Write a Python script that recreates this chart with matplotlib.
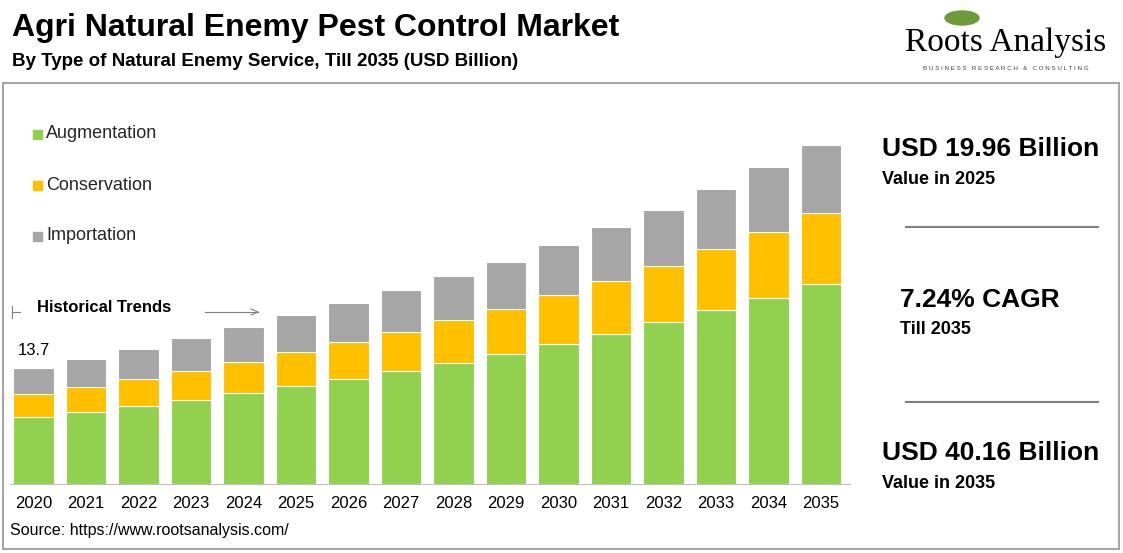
import matplotlib
matplotlib.use("Agg")
import matplotlib.pyplot as plt
from matplotlib.patches import Rectangle, Ellipse
from matplotlib.lines import Line2D

plt.rcParams['font.family'] = ['Liberation Sans', 'DejaVu Sans']

years = ['2020','2021','2022','2023','2024','2025','2026','2027','2028','2029','2030','2031','2032','2033','2034','2035']
augmentation = [7.9,8.5,9.2,9.9,10.7,11.6,12.4,13.3,14.3,15.3,16.5,17.7,19.1,20.5,22.0,23.6]
conservation = [2.7,2.95,3.2,3.4,3.7,4.0,4.4,4.6,5.1,5.4,5.8,6.3,6.6,7.2,7.8,8.4]
importation = [3.1,3.3,3.5,3.9,4.1,4.4,4.6,5.0,5.2,5.5,5.9,6.3,6.7,7.1,7.6,8.0]
series_names = ['Augmentation','Conservation','Importation']
colors = ['#92D050','#FFC000','#A6A6A6']

W, H = 1123, 553
fig = plt.figure(figsize=(W/100, H/100), dpi=100)

def fx(px): return px / W
def fy(py): return 1 - py / H

fig.add_artist(Rectangle((fx(3), fy(549)), fx(1116), (549-83)/H, fill=False, edgecolor='#A6A6A6', lw=1.5, transform=fig.transFigure))

ax = fig.add_axes([fx(10), fy(484), fx(840), (484-100)/H])
x = list(range(len(years)))
bottom = [0]*len(years)
for vals, c, n in zip([augmentation, conservation, importation], colors, series_names):
    ax.bar(x, vals, 0.77, bottom=bottom, color=c, edgecolor='white', linewidth=0.8, label=n)
    bottom = [b+v for b, v in zip(bottom, vals)]
ax.set_xlim(-0.45, 15.55)
ax.set_ylim(0, 384/8.47)
for s in ['top','right','left']:
    ax.spines[s].set_visible(False)
ax.spines['bottom'].set_color('#BFBFBF')
ax.set_yticks([])
ax.set_xticks(x)
ax.set_xticklabels(years, fontsize=12)
ax.tick_params(axis='x', length=0, pad=9)
ax.text(0, bottom[0]+1.2, f"{bottom[0]:.1f}", ha='center', va='bottom', fontsize=12)

for i, (n, c) in enumerate(zip(series_names, colors)):
    yy = 134 + i*51
    fig.add_artist(Rectangle((fx(33), fy(yy+5)), fx(9), 9/H, color=c, transform=fig.transFigure))
    fig.text(fx(46), fy(yy), n, fontsize=13, va='center', color='#262626')

fig.text(fx(37), fy(308), 'Historical Trends', fontsize=12, fontweight='bold', va='center')
fig.add_artist(Line2D([fx(205), fx(258)], [fy(312), fy(312)], color='#7F7F7F', lw=0.8))
fig.add_artist(Line2D([fx(251), fx(258), fx(251)], [fy(309), fy(312), fy(315)], color='#7F7F7F', lw=0.8))
fig.add_artist(Line2D([fx(12), fx(12)], [fy(306), fy(318)], color='#7F7F7F', lw=0.8))
fig.add_artist(Line2D([fx(12), fx(20)], [fy(312), fy(312)], color='#7F7F7F', lw=0.8))

fig.text(fx(12), fy(28), 'Agri Natural Enemy Pest Control Market', fontsize=23, fontweight='bold', va='center')
fig.text(fx(12), fy(62), 'By Type of Natural Enemy Service, Till 2035 (USD Billion)', fontsize=13.5, fontweight='bold', va='center')
fig.text(fx(10), fy(530), 'Source: https://www.rootsanalysis.com/', fontsize=11.5, va='center')

fig.text(fx(1006), fy(43), 'Roots Analysis', fontsize=24, family='Liberation Serif', ha='center', va='center')
fig.text(fx(1006), fy(68), 'B U S I N E S S   R E S E A R C H   &   C O N S U L T I N G', fontsize=4.5, ha='center', va='center', color='#404040')
fig.add_artist(Ellipse((fx(962), fy(18)), fx(34), 14/H, color='#6E9B3A', transform=fig.transFigure))

fig.text(fx(882), fy(149), 'USD 19.96 Billion', fontsize=19, fontweight='bold', va='center')
fig.text(fx(882), fy(179), 'Value in 2025', fontsize=13, fontweight='bold', va='center')
fig.add_artist(Line2D([fx(906), fx(1098)], [fy(227), fy(227)], color='#7F7F7F', lw=1.5))
fig.text(fx(900), fy(300), '7.24% CAGR', fontsize=19, fontweight='bold', va='center')
fig.text(fx(900), fy(330), 'Till 2035', fontsize=13, fontweight='bold', va='center')
fig.add_artist(Line2D([fx(906), fx(1098)], [fy(402), fy(402)], color='#7F7F7F', lw=1.5))
fig.text(fx(882), fy(453), 'USD 40.16 Billion', fontsize=19, fontweight='bold', va='center')
fig.text(fx(882), fy(483), 'Value in 2035', fontsize=13, fontweight='bold', va='center')

fig.savefig('out.png', dpi=100)
